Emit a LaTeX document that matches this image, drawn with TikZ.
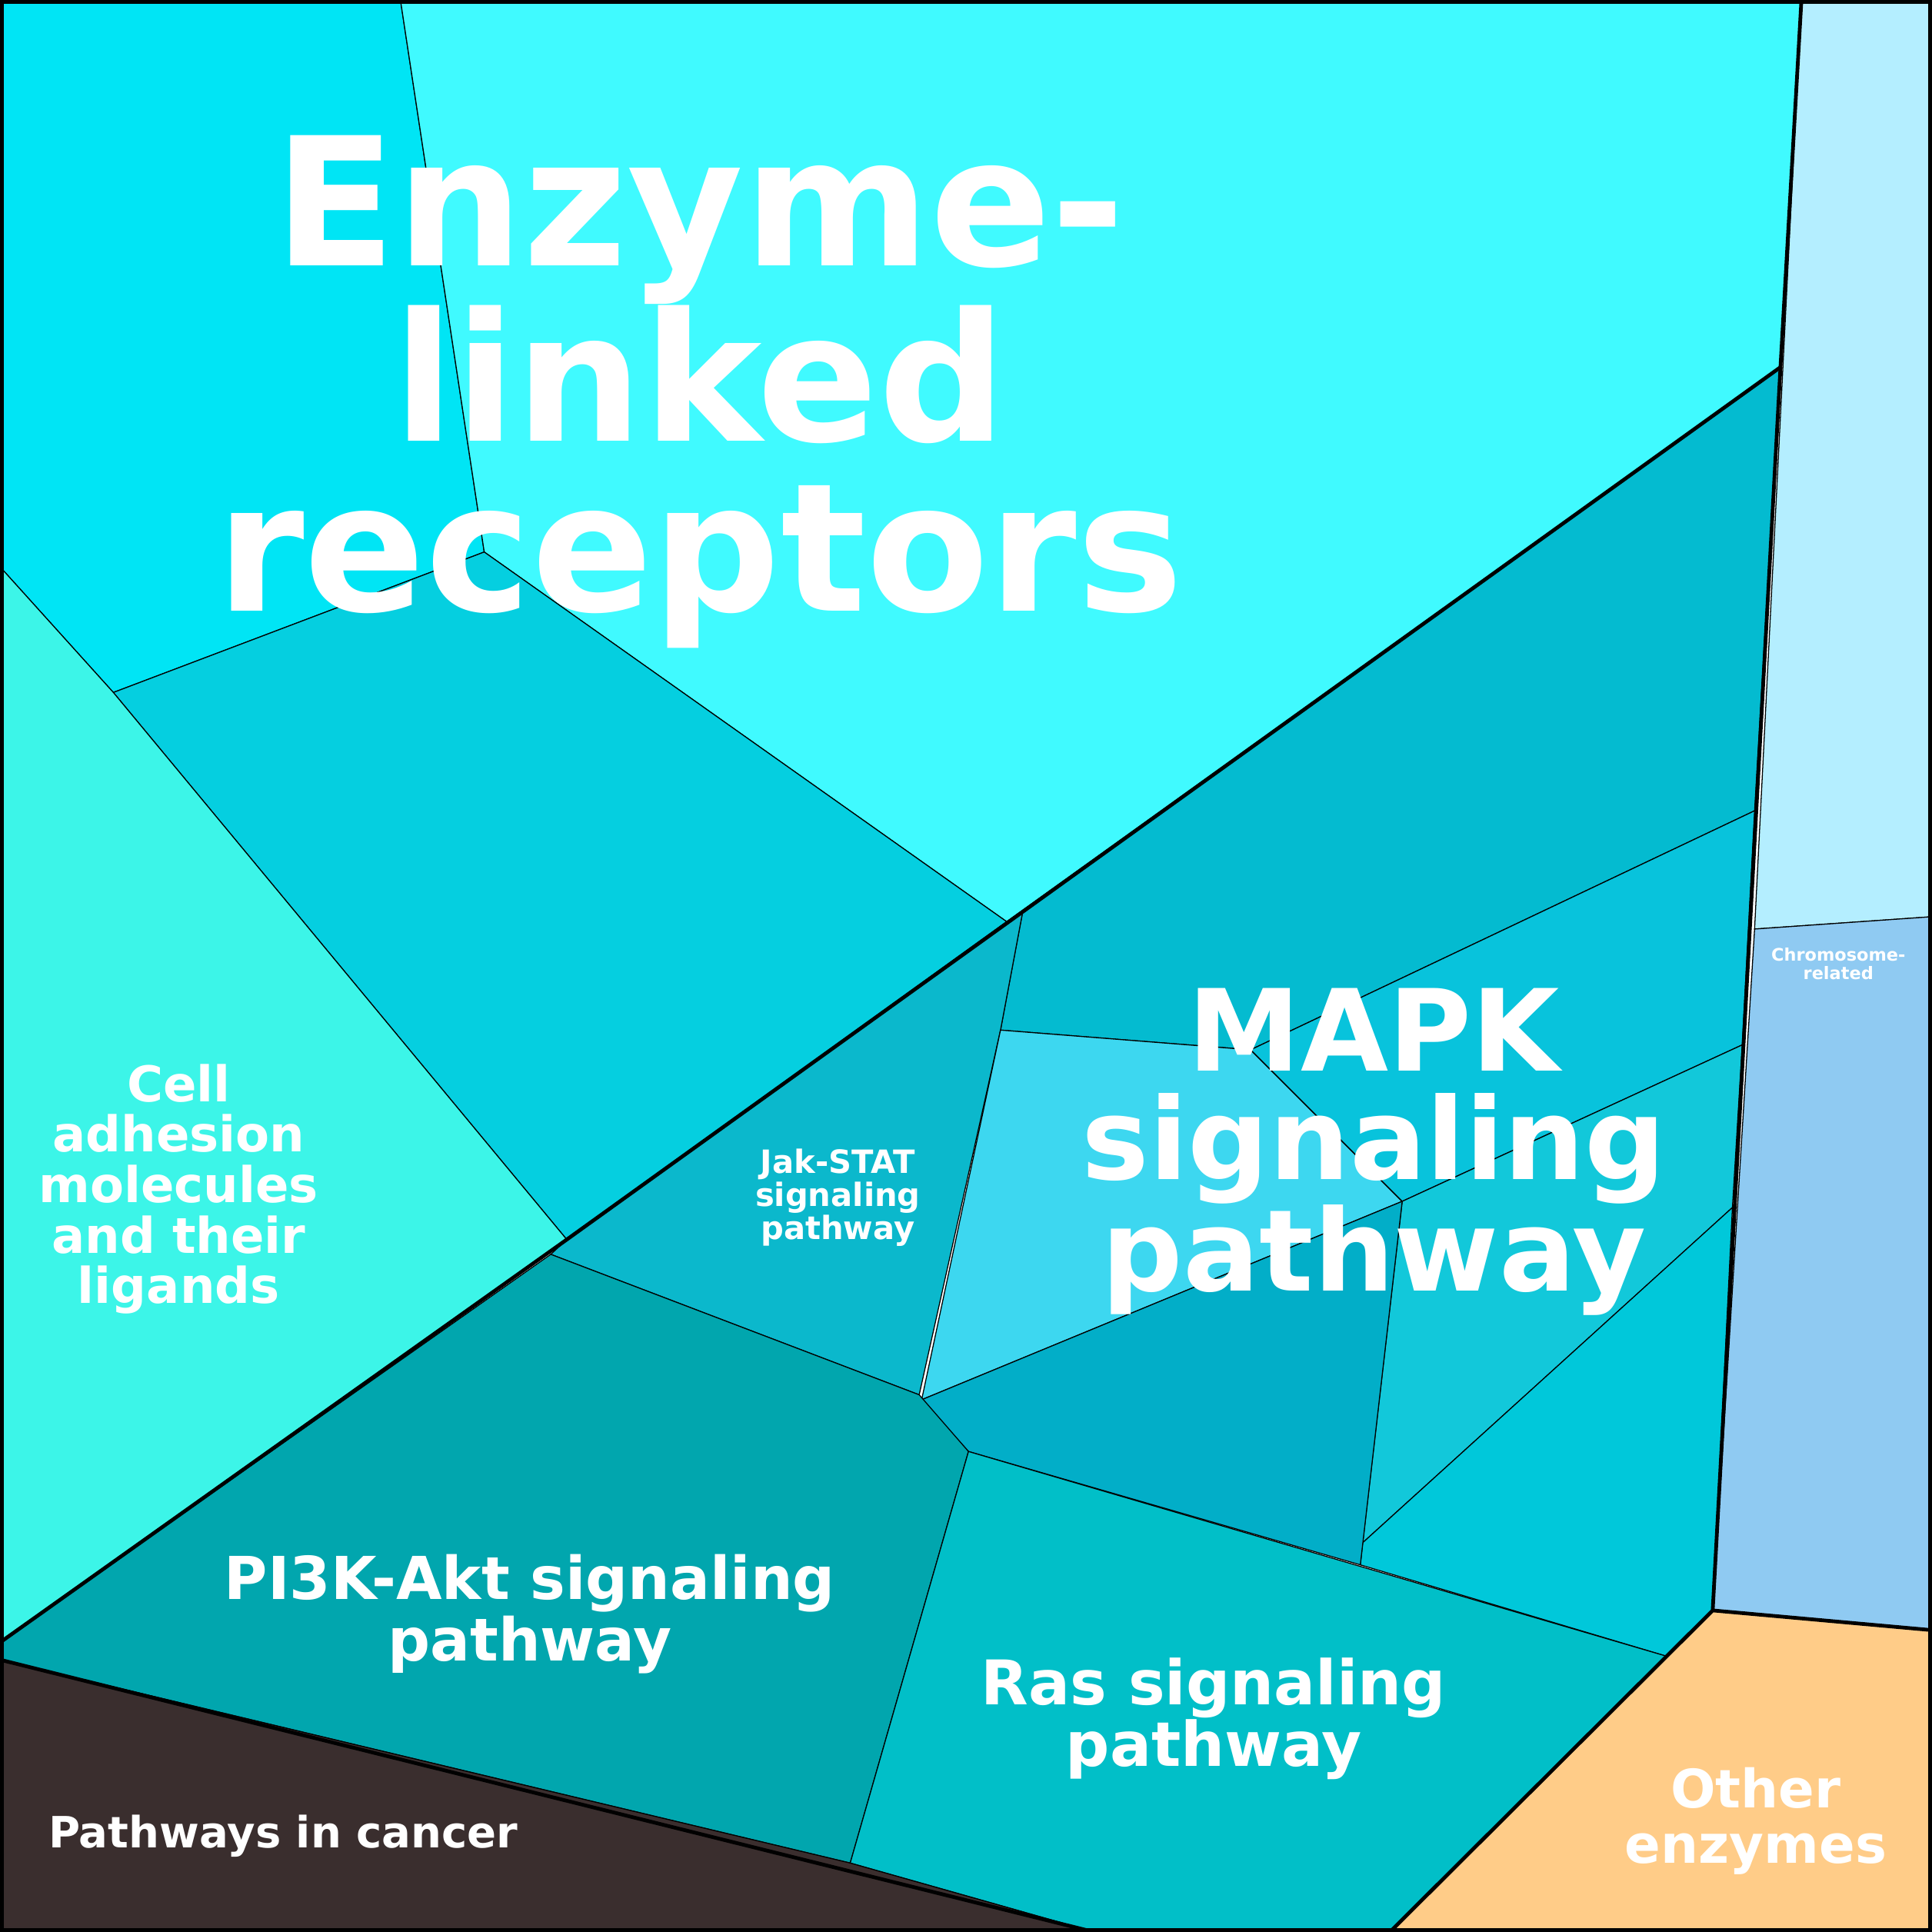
\documentclass[tikz,border=0pt]{standalone}
\usepackage{fontspec}
\setmainfont{DejaVu Sans}
\usepackage{xcolor}
\definecolor{cTopL}{HTML}{00E5F5}
\definecolor{cEnz}{HTML}{40FAFF}
\definecolor{cMidL}{HTML}{05CFE0}
\definecolor{cCell}{HTML}{3CF5E8}
\definecolor{cMapA}{HTML}{04BBD0}
\definecolor{cJak}{HTML}{0BB8CC}
\definecolor{cLight}{HTML}{3DD7F0}
\definecolor{cMapB}{HTML}{08C3DC}
\definecolor{cMapC}{HTML}{12C8DA}
\definecolor{cMapD}{HTML}{00C8DA}
\definecolor{cMapE}{HTML}{02AEC8}
\definecolor{cPik}{HTML}{01A6AE}
\definecolor{cRas}{HTML}{01BFC8}
\definecolor{cCancer}{HTML}{3A2E2E}
\definecolor{cOther}{HTML}{FFCC88}
\definecolor{cChrom}{HTML}{8FCAF2}
\definecolor{cTopR}{HTML}{B4EEFF}
\begin{document}
\begin{tikzpicture}[x=1pt,y=-1pt,
    cell/.style={draw=black, line width=0.8pt},
    thick border/.style={draw=black, line width=3pt},
    label/.style={text=white, font=\bfseries, align=center}]
            \useasboundingbox (0,0) rectangle (1568,1568);
            %Cells
            \fill[cTopR,cell] (1462,0)--(1568,0)--(1568,744)--(1424,754)--cycle;
            \fill[cChrom,cell] (1424,754)--(1568,744)--(1568,1323)--(1390,1307)--cycle;
            \fill[cOther,cell] (1390,1307)--(1568,1323)--(1568,1568)--(1128,1568)--cycle;
            \fill[cTopL,cell] (0,0)--(325,0)--(393,448)--(92,562)--(0,460)--cycle;
            \fill[cEnz,cell] (325,0)--(1462,0)--(1445,298)--(817,748)--(393,448)--cycle;
            \fill[cMidL,cell] (92,562)--(393,448)--(817,748)--(460,1006)--cycle;
            \fill[cCell,cell] (0,460)--(92,562)--(460,1006)--(0,1333)--cycle;
            \fill[cMapA,cell] (830,740)--(1445,298)--(1424,658)--(1015,852)--(812,836)--cycle;
            \fill[cJak,cell] (830,740)--(812,836)--(746,1132)--(447,1018)--(460,1006)--cycle;
            \fill[cLight,cell] (812,836)--(1015,852)--(1138,975)--(748,1136)--cycle;
            \fill[cMapB,cell] (1015,852)--(1424,658)--(1414,848)--(1138,975)--cycle;
            \fill[cMapC,cell] (1138,975)--(1414,848)--(1406,980)--(1106,1252)--cycle;
            \fill[cMapD,cell] (1106,1252)--(1406,980)--(1390,1307)--(1352,1344)--(1104,1270)--cycle;
            \fill[cMapE,cell] (748,1136)--(1138,975)--(1104,1270)--(786,1178)--cycle;
            \fill[cPik,cell] (0,1333)--(447,1018)--(746,1132)--(786,1178)--(690,1512)--(0,1347)--cycle;
            \fill[cRas,cell] (786,1178)--(1352,1344)--(1128,1568)--(888,1568)--(690,1512)--cycle;
            \fill[cCancer,cell] (0,1347)--(690,1512)--(888,1568)--(0,1568)--cycle;

            %Group borders
            \draw[thick border] (0,1333)--(460,1006)--(830,740)--(1445,298)--(1462,0);
            \draw[thick border] (1445,298)--(1390,1307)--(1568,1323);
            \draw[thick border] (1390,1307)--(1128,1568);
            \draw[thick border] (0,1347)--(888,1568);
            \draw[line width=6pt] (0,0) rectangle (1568,1568);

            %Labels
            \node[label, font=\bfseries\fontsize{145}{138}\selectfont] (enzyme) at (568,318) {Enzyme-\\linked\\receptors};
            \node[label, font=\bfseries\fontsize{92}{88}\selectfont] (mapk) at (1115,935) {MAPK\\signaling\\pathway};
            \node[label, font=\bfseries\fontsize{50}{50}\selectfont] (ras) at (985,1395) {Ras signaling\\pathway};
            \node[label, font=\bfseries\fontsize{48}{50}\selectfont] (pik) at (430,1310) {PI3K-Akt signaling\\pathway};
            \node[label, font=\bfseries\fontsize{40}{41}\selectfont] (adhesion) at (145,965) {Cell\\adhesion\\molecules\\and their\\ligands};
            \node[label, font=\bfseries\fontsize{26}{27}\selectfont] (jak) at (680,972) {Jak-STAT\\signaling\\pathway};
            \node[label, font=\bfseries\fontsize{43}{45}\selectfont] (other) at (1425,1478) {Other\\enzymes};
            \node[label, font=\bfseries\fontsize{35}{36}\selectfont, anchor=west] (cancer) at (36,1490) {Pathways in cancer};
            \node[label, font=\bfseries\fontsize{14}{15}\selectfont] (chrom) at (1492,782) {Chromosome-\\related};
\end{tikzpicture}
\end{document}
